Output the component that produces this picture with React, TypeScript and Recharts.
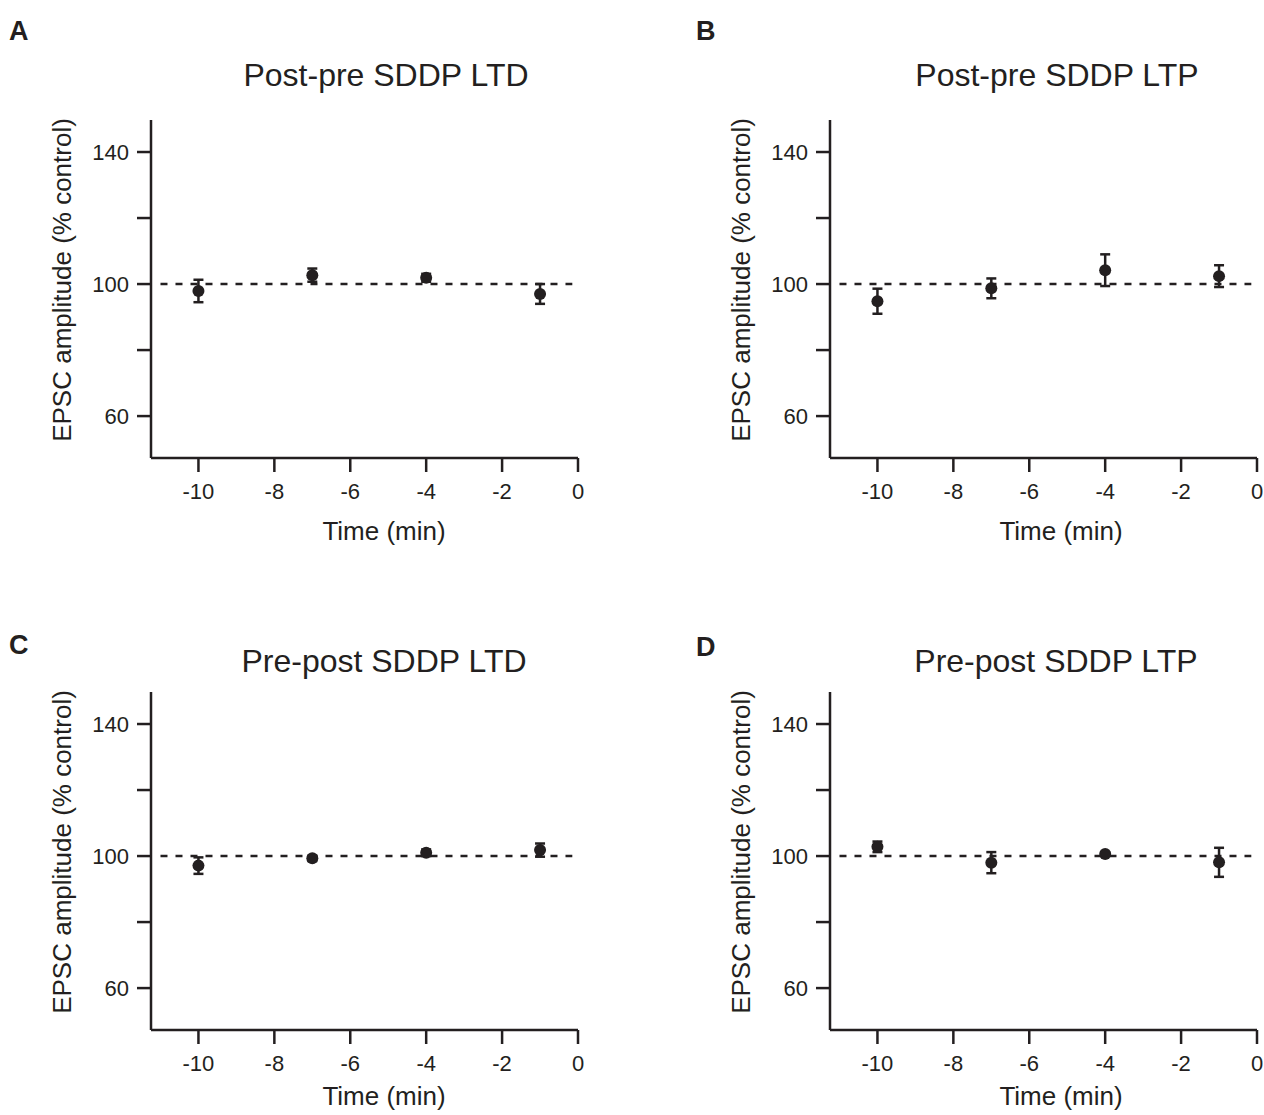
import React from "react";
import {
  ScatterChart,
  Scatter,
  XAxis,
  YAxis,
  ErrorBar,
  ReferenceLine,
} from "recharts";

// time points (min before induction)
const minutes = [-10, -7, -4, -1];

// EPSC amplitude (% control), mean and s.e.m. per panel
const postPreLtdMean = [97.9, 102.7, 101.9, 97.0];
const postPreLtdErr = [3.4, 2.0, 1.2, 3.0];
const postPreLtpMean = [94.8, 98.7, 104.2, 102.4];
const postPreLtpErr = [3.8, 3.0, 4.8, 3.3];
const prePostLtdMean = [97.1, 99.3, 101.0, 101.8];
const prePostLtdErr = [2.5, 0.8, 1.0, 2.0];
const prePostLtpMean = [102.8, 98.0, 100.6, 98.1];
const prePostLtpErr = [1.6, 3.2, 0.6, 4.4];

const xTicks = [-10, -8, -6, -4, -2, 0];
const yTicks = [60, 80, 100, 120, 140];

const INK = "#231f20";
const FONT = '"Liberation Sans", Arial, Helvetica, sans-serif';
const W = 585;
const H = 560;

function Dot(props: any) {
  if (props.cx == null || props.cy == null) return null;
  return <circle cx={props.cx} cy={props.cy} r={6} fill={INK} />;
}

// axis titles get fixed anchor points; recharts' own x/y props are ignored
function XTitle({ ax, ay }: { ax: number; ay: number }) {
  return (
    <text x={ax} y={ay} textAnchor="middle" fontSize={26} fill={INK} fontFamily={FONT}>
      Time (min)
    </text>
  );
}

function YTitle({ ax, ay }: { ax: number; ay: number }) {
  return (
    <text
      x={ax}
      y={ay}
      textAnchor="middle"
      fontSize={26}
      fill={INK}
      fontFamily={FONT}
      transform={`rotate(-90, ${ax}, ${ay})`}
    >
      EPSC amplitude (% control)
    </text>
  );
}

interface PanelProps {
  letter: string;
  title: string;
  means: number[];
  errs: number[];
  left: number;
  top: number;
  letterX: number;
  letterY: number;
  titleX: number;
  titleY: number;
  xLabelX: number;
  xLabelY: number;
}

function Panel(p: PanelProps) {
  const data = minutes.map((t, i) => ({ t, mean: p.means[i], err: p.errs[i] }));
  return (
    <div style={{ position: "absolute", left: p.left, top: p.top, width: W, height: H }}>
      <svg width={W} height={H} style={{ position: "absolute", left: 0, top: 0 }}>
        <text x={p.letterX} y={p.letterY} fontSize={27} fontWeight="bold" fill={INK} fontFamily={FONT}>
          {p.letter}
        </text>
        <text x={p.titleX} y={p.titleY} textAnchor="middle" fontSize={32} fill={INK} fontFamily={FONT}>
          {p.title}
        </text>
      </svg>
      <div style={{ position: "absolute", left: 0, top: 0 }}>
        <ScatterChart width={W} height={H} margin={{ top: 120, right: 7, bottom: 22, left: 0 }}>
          <XAxis
            type="number"
            dataKey="t"
            domain={[-11.25, 0]}
            ticks={xTicks}
            interval={0}
            allowDataOverflow
            height={80}
            tickSize={14}
            tickMargin={11}
            fontSize={22}
            fontFamily={FONT}
            axisLine={{ stroke: INK, strokeWidth: 2.5 }}
            tickLine={{ stroke: INK, strokeWidth: 2.5 }}
            tick={{ fill: INK, fontSize: 22, fontFamily: FONT }}
            label={<XTitle ax={p.xLabelX} ay={p.xLabelY} />}
          />
          <YAxis
            type="number"
            dataKey="mean"
            domain={[47.3, 149.7]}
            ticks={yTicks}
            interval={0}
            allowDataOverflow
            width={151}
            tickSize={14}
            tickMargin={8}
            fontSize={22}
            fontFamily={FONT}
            tickFormatter={(v) => (v % 40 === 20 ? String(v) : "")}
            axisLine={{ stroke: INK, strokeWidth: 2.5 }}
            tickLine={{ stroke: INK, strokeWidth: 2.5 }}
            tick={{ fill: INK, fontSize: 22, fontFamily: FONT }}
            label={<YTitle ax={71} ay={280} />}
          />
          <ReferenceLine
            segment={[
              { x: -11, y: 100 },
              { x: -0.15, y: 100 },
            ]}
            stroke={INK}
            strokeWidth={2.5}
            strokeDasharray="7 8"
            ifOverflow="visible"
          />
          <Scatter data={data} shape={<Dot />} isAnimationActive={false}>
            <ErrorBar
              dataKey="err"
              direction="y"
              width={5}
              stroke={INK}
              strokeWidth={2.5}
              isAnimationActive={false}
            />
          </Scatter>
        </ScatterChart>
      </div>
    </div>
  );
}

export default function App() {
  return (
    <div
      style={{
        position: "absolute",
        left: 0,
        top: 0,
        width: 1264,
        height: 1115,
        overflow: "hidden",
        background: "#fff",
        fontFamily: FONT,
      }}
    >
      <Panel
        letter="A"
        title="Post-pre SDDP LTD"
        means={postPreLtdMean}
        errs={postPreLtdErr}
        left={0}
        top={0}
        letterX={9}
        letterY={40}
        titleX={386}
        titleY={86}
        xLabelX={384}
        xLabelY={540}
      />
      <Panel
        letter="B"
        title="Post-pre SDDP LTP"
        means={postPreLtpMean}
        errs={postPreLtpErr}
        left={679}
        top={0}
        letterX={17}
        letterY={40}
        titleX={378}
        titleY={86}
        xLabelX={382}
        xLabelY={540}
      />
      <Panel
        letter="C"
        title="Pre-post SDDP LTD"
        means={prePostLtdMean}
        errs={prePostLtdErr}
        left={0}
        top={572}
        letterX={9}
        letterY={82}
        titleX={384}
        titleY={100}
        xLabelX={384}
        xLabelY={533}
      />
      <Panel
        letter="D"
        title="Pre-post SDDP LTP"
        means={prePostLtpMean}
        errs={prePostLtpErr}
        left={679}
        top={572}
        letterX={17}
        letterY={84}
        titleX={377}
        titleY={100}
        xLabelX={382}
        xLabelY={533}
      />
    </div>
  );
}
